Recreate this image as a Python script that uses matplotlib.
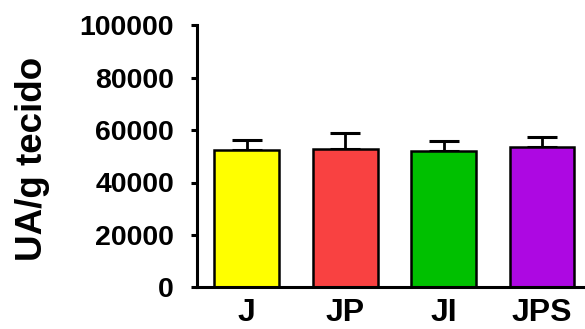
import matplotlib
matplotlib.use("Agg")
import matplotlib.pyplot as plt

groups = ["J", "JP", "JI", "JPS"]
means = [52400, 52700, 52000, 53400]
sem = [3800, 6100, 3700, 3800]
colors = ["#FFFF00", "#F94141", "#00C000", "#AD08E2"]
yticks = [0, 20000, 40000, 60000, 80000, 100000]

plt.rcParams["font.family"] = ["Liberation Sans", "DejaVu Sans"]
plt.rcParams["font.weight"] = "bold"

fig = plt.figure(figsize=(5.85, 3.29), dpi=100)
ax = fig.add_axes([197 / 585, 1 - 287.3 / 329, 1 - 197 / 585, (287.3 - 25.3) / 329])

x = list(range(len(groups)))
ax.bar(x, means, width=0.66, color=colors, edgecolor="black", linewidth=1.8, zorder=2)
ax.errorbar(x, means, yerr=[[0] * len(sem), sem], fmt="none", ecolor="black",
            elinewidth=2.0, capsize=10.5, capthick=2.2, zorder=1)

ax.set_xlim(-0.506, 3.437)
ax.set_ylim(0, 100000)
ax.set_yticks(yticks)
ax.set_yticklabels([str(v) for v in yticks], fontsize=20.5, fontweight="bold")
ax.set_xticks(x)
ax.set_xticklabels(groups, fontsize=23, fontweight="bold")

for side in ("top", "right"):
    ax.spines[side].set_visible(False)
for side in ("left", "bottom"):
    ax.spines[side].set_linewidth(2.2)

ax.tick_params(axis="y", length=4.5, width=2.2, pad=12)
ax.tick_params(axis="x", length=0, pad=8)

ax.set_ylabel("UA/g tecido", fontsize=26.5, fontweight="bold")
ax.yaxis.set_label_coords(-(197 - 50) / (585 - 197), 0.49)

fig.savefig("out.png", dpi=100)
